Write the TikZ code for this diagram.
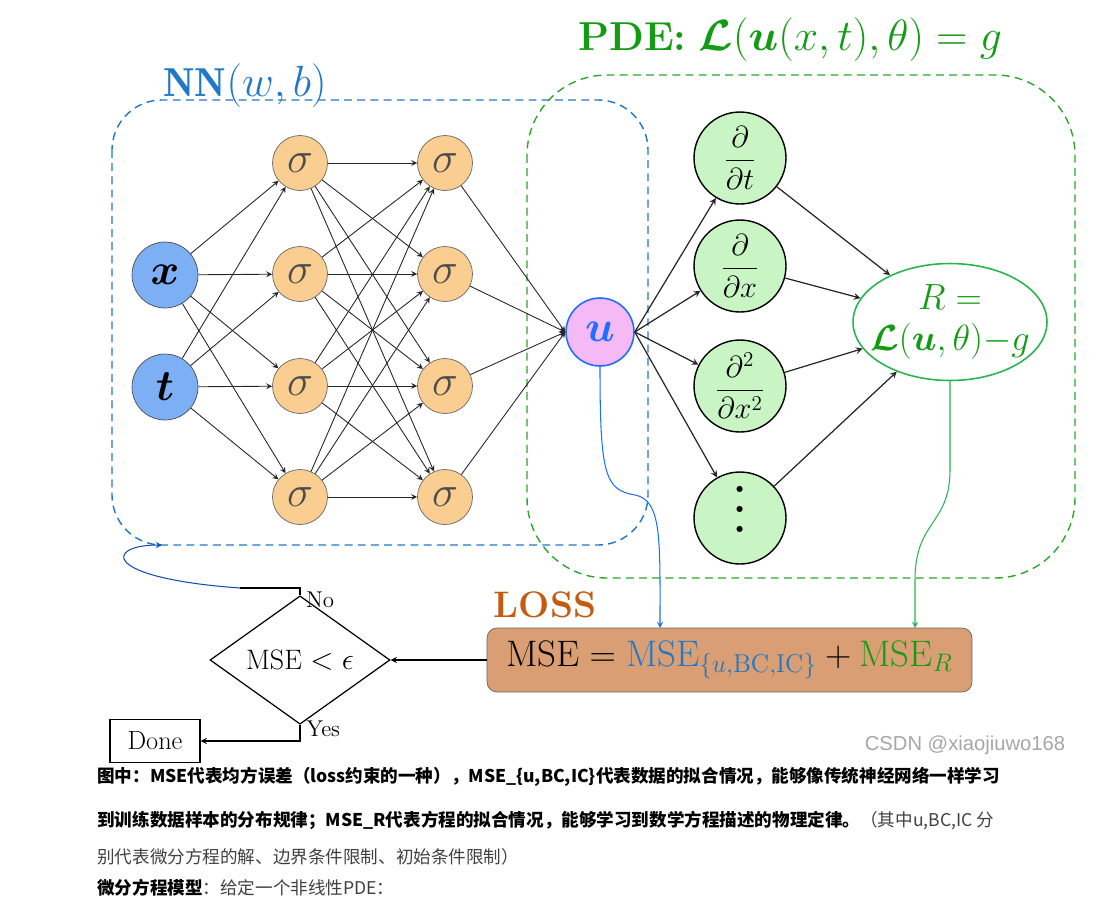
\documentclass[tikz,border=0pt]{standalone}
\usepackage{amsmath,bm}
\usepackage{fontspec}
\newfontfamily\cjk{Noto Sans CJK SC}
\newfontfamily\wmfont{Liberation Sans}
\usetikzlibrary{shapes.geometric}

\definecolor{nnblue}{RGB}{31,120,200}
\definecolor{pdegreen}{RGB}{20,155,20}
\definecolor{infill}{RGB}{125,175,245}
\definecolor{sigfill}{RGB}{250,205,145}
\definecolor{ufill}{RGB}{245,185,245}
\definecolor{ublue}{RGB}{30,110,255}
\definecolor{dfill}{RGB}{200,245,195}
\definecolor{lossfill}{RGB}{218,158,116}
\definecolor{lossorange}{RGB}{197,90,17}
\definecolor{rgreen}{RGB}{40,180,80}

\begin{document}
\begin{tikzpicture}[x=0.02cm,y=-0.02cm,
  inp/.style={circle, draw=black!70, fill=infill, minimum size=1.32cm, inner sep=0pt, font=\fontsize{28}{30}\selectfont},
  sig/.style={circle, draw=black!60, fill=sigfill, minimum size=1.1cm, inner sep=0pt, text=black!70, font=\fontsize{26}{28}\selectfont},
  outu/.style={circle, draw=ublue, line width=0.9pt, fill=ufill, minimum size=1.36cm, inner sep=0pt, text=ublue, font=\fontsize{28}{30}\selectfont},
  deriv/.style={circle, draw=black, line width=0.8pt, fill=dfill, minimum size=1.84cm, inner sep=0pt, font=\fontsize{18}{21}\selectfont},
  resid/.style={ellipse, draw=rgreen, line width=0.9pt, minimum width=3.88cm, minimum height=2.34cm, inner sep=0pt},
  edge/.style={->, >=stealth, black!85, line width=0.5pt},
  flow/.style={->, >=stealth, line width=0.6pt},
  captext/.style={anchor=west, inner sep=0pt, font=\cjk\fontsize{10}{12}\selectfont}]
\useasboundingbox (0,0) rectangle (1096,907);

% dashed frames
\draw[nnblue, line width=0.8pt, dash pattern=on 4.5pt off 3pt, rounded corners=1cm] (112,100) rectangle (648,545);
\draw[pdegreen!90, line width=0.8pt, dash pattern=on 4.5pt off 3pt, rounded corners=1.6cm] (527,75) rectangle (1075,578);
\node[text=nnblue, font=\fontsize{23}{26}\selectfont] (nnlbl) at (245,86) {$\mathbf{NN}(w,b)$};
\node[text=pdegreen, font=\fontsize{23}{26}\selectfont] (pdelbl) at (790,40) {\textbf{PDE:} $\bm{\mathcal{L}}(\bm{u}(x,t),\theta)=g$};

% network
\node[inp] (x) at (165,275) {$\bm{x}$};
\node[inp] (t) at (165,387) {$\bm{t}$};
\node[sig] (a1) at (300,163) {$\sigma$};
\node[sig] (a2) at (300,274) {$\sigma$};
\node[sig] (a3) at (300,386) {$\sigma$};
\node[sig] (a4) at (300,497) {$\sigma$};
\node[sig] (b1) at (445,163) {$\sigma$};
\node[sig] (b2) at (445,274) {$\sigma$};
\node[sig] (b3) at (445,386) {$\sigma$};
\node[sig] (b4) at (445,497) {$\sigma$};
\node[outu] (u) at (600,332) {$\bm{u}$};

\foreach \i in {x,t}
  \foreach \j in {1,...,4}
    \draw[edge] (\i) -- (a\j);
\foreach \i in {1,...,4}
  \foreach \j in {1,...,4}
    \draw[edge] (a\i) -- (b\j);
\foreach \i in {1,...,4}
  \draw[edge] (b\i) -- (u.west);

% PDE part
\node[deriv] (dt) at (740,158) {$\dfrac{\partial}{\partial t}$};
\node[deriv] (dx) at (740,266) {$\dfrac{\partial}{\partial x}$};
\node[deriv] (dxx) at (740,386) {$\dfrac{\partial^2}{\partial x^2}$};
\node[deriv, align=center, font=\bfseries\fontsize{24}{11.5}\selectfont] (dots) at (740,518) {.\\.\\.\\[-2pt]};
\node[resid] (R) at (950,322) {};
\node[text=pdegreen, align=center, font=\fontsize{21}{25}\selectfont] (rtext) at (R.center) {$R=$\\[-2pt]$\bm{\mathcal{L}}(\bm{u},\theta){-}g$};

\foreach \d in {dt,dx,dxx,dots}{
  \draw[edge, line width=0.7pt] (u.east) -- (\d);
  \draw[edge, line width=0.7pt] (\d) -- (R);
}

% loss and decision
\node[text=lossorange, font=\fontsize{21}{24}\selectfont\bfseries] (losslbl) at (545,605) {LOSS};
\node[draw=black!60, fill=lossfill, rounded corners=0.2cm, minimum width=9.7cm, minimum height=1.28cm, font=\fontsize{21}{24}\selectfont] (loss) at (729.5,660)
  {$\mathrm{MSE}=\textcolor{nnblue}{\mathrm{MSE}_{\{u,\mathrm{BC},\mathrm{IC}\}}}+\textcolor{pdegreen}{\mathrm{MSE}_R}$};
\node[diamond, draw, line width=0.7pt, minimum width=3.6cm, minimum height=2.2cm, inner sep=0pt, font=\fontsize{16}{18}\selectfont] (dec) at (300,660) {$\mathrm{MSE}<\epsilon$};
\node[draw, line width=0.7pt, minimum width=1.8cm, minimum height=0.86cm, font=\fontsize{15}{18}\selectfont] (done) at (155,741) {Done};

\coordinate (lossu) at (660,628);
\coordinate (lossr) at (915,628);
\coordinate (noturn) at (300,588);
\coordinate (nofoot) at (240,588);
\coordinate (nnin) at (162,545);

\draw[flow] (loss.west) -- (dec.east);
\draw[flow] (dec.south) |- (done.east) node[pos=0.12, right, font=\fontsize{13}{15}\selectfont] {Yes};
\draw[line width=0.7pt] (dec.north) -- (noturn) -- (nofoot);
\node[anchor=west, font=\fontsize{13}{15}\selectfont] (nolbl) at (300,600) {No};
\draw[flow, ublue!70!black] (nofoot) .. controls (100,578) and (105,545) .. (nnin);
\draw[flow, ublue] (u.south) .. controls (600,475) and (605,490) .. (635,495) .. controls (662,500) and (660,540) .. (lossu);
\draw[flow, rgreen] (R.south) -- (950,470) .. controls (950,525) and (915,520) .. (915,580) -- (lossr);

\node[text=black!35, font=\wmfont\fontsize{11.5}{13}\selectfont] (wm) at (965,745) {CSDN @xiaojiuwo168};

% caption
\node[captext] (cap1) at (97,777) {\bfseries 图中：MSE代表均方误差（loss约束的一种），MSE\_\{u,BC,IC\}代表数据的拟合情况，能够像传统神经网络一样学习};
\node[captext] (cap2) at (97,820) {{\bfseries 到训练数据样本的分布规律；MSE\_R代表方程的拟合情况，能够学习到数学方程描述的物理定律。}\textcolor{black!75}{（其中u,BC,IC 分}};
\node[captext, text=black!75] (cap3) at (97,857) {别代表微分方程的解、边界条件限制、初始条件限制）};
\node[captext] (cap4) at (97,888) {{\bfseries 微分方程模型}\textcolor{black!75}{：给定一个非线性PDE：}};
\end{tikzpicture}
\end{document}
